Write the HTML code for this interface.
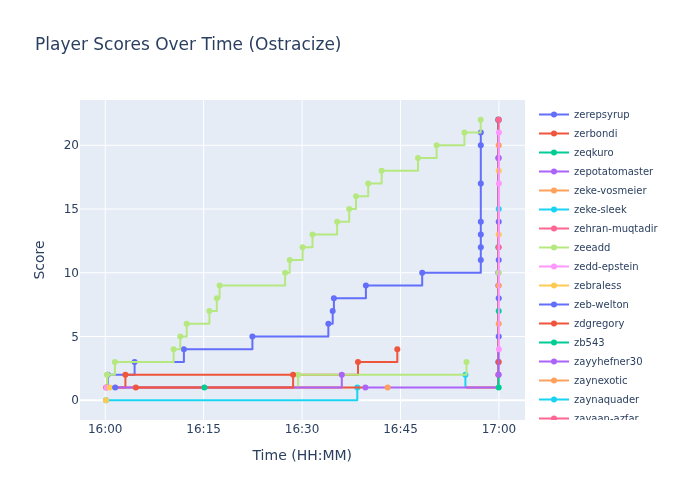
<!DOCTYPE html>
<html lang="en"><head><meta charset="utf-8"><title>Player Scores Over Time (Ostracize)</title>
<style>
html,body{margin:0;padding:0;background:#fff;}
body{width:700px;height:500px;overflow:hidden;}
svg{display:block;will-change:transform;font-family:"DejaVu Sans","Liberation Sans",sans-serif;}
svg text{white-space:pre;}
</style></head><body>
<svg width="700" height="500" viewBox="0 0 700 500">
<defs>
<clipPath id="plotclip"><rect x="80" y="100" width="445" height="320"/></clipPath>
<clipPath id="legclip"><rect x="534" y="100" width="166" height="320"/></clipPath>
</defs>
<rect x="0" y="0" width="700" height="500" fill="#fff"/>
<rect x="80" y="100" width="445" height="320" fill="#E5ECF6"/>
<g clip-path="url(#plotclip)">
<path d="M105.22,100V420" stroke="#fff" stroke-width="1" fill="none"/>
<path d="M203.65,100V420" stroke="#fff" stroke-width="1" fill="none"/>
<path d="M302.07,100V420" stroke="#fff" stroke-width="1" fill="none"/>
<path d="M400.5,100V420" stroke="#fff" stroke-width="1" fill="none"/>
<path d="M498.93,100V420" stroke="#fff" stroke-width="1" fill="none"/>
<path d="M80,336.5H525" stroke="#fff" stroke-width="1" fill="none"/>
<path d="M80,272.75H525" stroke="#fff" stroke-width="1" fill="none"/>
<path d="M80,209.0H525" stroke="#fff" stroke-width="1" fill="none"/>
<path d="M80,145.25H525" stroke="#fff" stroke-width="1" fill="none"/>
<path d="M80,400.25H525" stroke="#fff" stroke-width="2" fill="none"/>
<path d="M106,400.25H357.3V387.5" fill="none" stroke="#19d3f3" stroke-width="2" stroke-linejoin="round" stroke-linecap="butt"/>
<circle cx="106" cy="400.25" r="3" fill="#19d3f3"/>
<circle cx="357.3" cy="387.5" r="3" fill="#19d3f3"/>
<path d="M465.4,387.5H465.4V374.75" fill="none" stroke="#19d3f3" stroke-width="2" stroke-linejoin="round" stroke-linecap="butt"/>
<circle cx="465.4" cy="374.75" r="3" fill="#19d3f3"/>
<path d="M105.6,387.5H107.65V374.75H134.6V362.0H183.9V349.25H252.4V336.5H328.35V323.75H332.7V311.0H333.9V298.25H365.9V285.5H422.2V272.75H480.8V260.0H480.8V247.25H480.8V234.5H480.8V221.75H480.8V183.5H480.8V145.25H480.8V132.5" fill="none" stroke="#636efa" stroke-width="2" stroke-linejoin="round" stroke-linecap="butt"/>
<circle cx="107.65" cy="374.75" r="3" fill="#636efa"/>
<circle cx="134.6" cy="362.0" r="3" fill="#636efa"/>
<circle cx="183.9" cy="349.25" r="3" fill="#636efa"/>
<circle cx="252.4" cy="336.5" r="3" fill="#636efa"/>
<circle cx="328.35" cy="323.75" r="3" fill="#636efa"/>
<circle cx="332.7" cy="311.0" r="3" fill="#636efa"/>
<circle cx="333.9" cy="298.25" r="3" fill="#636efa"/>
<circle cx="365.9" cy="285.5" r="3" fill="#636efa"/>
<circle cx="422.2" cy="272.75" r="3" fill="#636efa"/>
<circle cx="480.8" cy="260.0" r="3" fill="#636efa"/>
<circle cx="480.8" cy="247.25" r="3" fill="#636efa"/>
<circle cx="480.8" cy="234.5" r="3" fill="#636efa"/>
<circle cx="480.8" cy="221.75" r="3" fill="#636efa"/>
<circle cx="480.8" cy="183.5" r="3" fill="#636efa"/>
<circle cx="480.8" cy="145.25" r="3" fill="#636efa"/>
<circle cx="480.8" cy="132.5" r="3" fill="#636efa"/>
<path d="M105.6,387.5H125.4V374.75H358.0V362.0H397.3V349.25" fill="none" stroke="#EF553B" stroke-width="2" stroke-linejoin="round" stroke-linecap="butt"/>
<circle cx="125.4" cy="374.75" r="3" fill="#EF553B"/>
<circle cx="358.0" cy="362.0" r="3" fill="#EF553B"/>
<circle cx="397.3" cy="349.25" r="3" fill="#EF553B"/>
<path d="M106.2,387.5H365.4" fill="none" stroke="#EF553B" stroke-width="2" stroke-linejoin="round" stroke-linecap="butt"/>
<path d="M466.0,387.5H498.1" fill="none" stroke="#EF553B" stroke-width="2" stroke-linejoin="round" stroke-linecap="butt"/>
<path d="M105.6,387.5H107.0V374.75H114.9V362.0H173.6V349.25H180.3V336.5H186.7V323.75H209.4V311.0H216.8V298.25H219.6V285.5H285.1V272.75H289.7V260.0H302.6V247.25H312.5V234.5H337.1V221.75H349.2V209.0H356.0V196.25H368.2V183.5H381.65V170.75H418.0V158.0H436.6V145.25H464.4V132.5H480.7V119.75" fill="none" stroke="#B6E880" stroke-width="2" stroke-linejoin="round" stroke-linecap="butt"/>
<circle cx="107.0" cy="374.75" r="3" fill="#B6E880"/>
<circle cx="114.9" cy="362.0" r="3" fill="#B6E880"/>
<circle cx="173.6" cy="349.25" r="3" fill="#B6E880"/>
<circle cx="180.3" cy="336.5" r="3" fill="#B6E880"/>
<circle cx="186.7" cy="323.75" r="3" fill="#B6E880"/>
<circle cx="209.4" cy="311.0" r="3" fill="#B6E880"/>
<circle cx="216.8" cy="298.25" r="3" fill="#B6E880"/>
<circle cx="219.6" cy="285.5" r="3" fill="#B6E880"/>
<circle cx="285.1" cy="272.75" r="3" fill="#B6E880"/>
<circle cx="289.7" cy="260.0" r="3" fill="#B6E880"/>
<circle cx="302.6" cy="247.25" r="3" fill="#B6E880"/>
<circle cx="312.5" cy="234.5" r="3" fill="#B6E880"/>
<circle cx="337.1" cy="221.75" r="3" fill="#B6E880"/>
<circle cx="349.2" cy="209.0" r="3" fill="#B6E880"/>
<circle cx="356.0" cy="196.25" r="3" fill="#B6E880"/>
<circle cx="368.2" cy="183.5" r="3" fill="#B6E880"/>
<circle cx="381.65" cy="170.75" r="3" fill="#B6E880"/>
<circle cx="418.0" cy="158.0" r="3" fill="#B6E880"/>
<circle cx="436.6" cy="145.25" r="3" fill="#B6E880"/>
<circle cx="464.4" cy="132.5" r="3" fill="#B6E880"/>
<circle cx="480.7" cy="119.75" r="3" fill="#B6E880"/>
<path d="M298.1,387.5H298.1V374.75H466.5V362.0" fill="none" stroke="#B6E880" stroke-width="2" stroke-linejoin="round" stroke-linecap="butt"/>
<circle cx="298.1" cy="374.75" r="3" fill="#B6E880"/>
<circle cx="466.5" cy="362.0" r="3" fill="#B6E880"/>
<path d="M105.6,387.5H341.8V374.75" fill="none" stroke="#ab63fa" stroke-width="2" stroke-linejoin="round" stroke-linecap="butt"/>
<circle cx="341.8" cy="374.75" r="3" fill="#ab63fa"/>
<path d="M135.8,387.5H293.1V374.75" fill="none" stroke="#EF553B" stroke-width="2" stroke-linejoin="round" stroke-linecap="butt"/>
<circle cx="135.8" cy="387.5" r="3" fill="#EF553B"/>
<circle cx="293.1" cy="374.75" r="3" fill="#EF553B"/>
<path d="M498.1,387.5V209.0" fill="none" stroke="#b3737b" stroke-width="2" stroke-linejoin="round" stroke-linecap="butt"/>
<path d="M498.1,209.0V132.5" fill="none" stroke="#877b9a" stroke-width="2" stroke-linejoin="round" stroke-linecap="butt"/>
<path d="M498.1,132.5V119.75" fill="none" stroke="#6f6a94" stroke-width="2" stroke-linejoin="round" stroke-linecap="butt"/>
<circle cx="498.3" cy="158.0" r="3" fill="#636efa"/>
<circle cx="498.3" cy="247.25" r="3" fill="#00cc96"/>
<circle cx="498.3" cy="272.75" r="3" fill="#ab63fa"/>
<circle cx="498.3" cy="285.5" r="3" fill="#ab63fa"/>
<circle cx="498.3" cy="362.0" r="3" fill="#636efa"/>
<circle cx="498.3" cy="374.75" r="3" fill="#EF553B"/>
<circle cx="498.45" cy="119.65" r="3.25" fill="#6f6a94"/>
<circle cx="498.7" cy="362.0" r="3" fill="#EF553B"/>
<circle cx="498.7" cy="336.5" r="3" fill="#636efa"/>
<circle cx="498.7" cy="323.75" r="3" fill="#FFA15A"/>
<circle cx="498.7" cy="311.0" r="3" fill="#00cc96"/>
<circle cx="498.7" cy="298.25" r="3" fill="#636efa"/>
<circle cx="498.7" cy="285.5" r="3" fill="#FFA15A"/>
<circle cx="498.7" cy="272.75" r="3" fill="#B6E880"/>
<circle cx="498.7" cy="260.0" r="3" fill="#636efa"/>
<circle cx="498.7" cy="234.5" r="3" fill="#FECB52"/>
<circle cx="498.7" cy="221.75" r="3" fill="#636efa"/>
<circle cx="498.7" cy="209.0" r="3" fill="#19d3f3"/>
<circle cx="498.7" cy="170.75" r="3" fill="#FECB52"/>
<circle cx="498.7" cy="158.0" r="3" fill="#ab63fa"/>
<circle cx="498.7" cy="145.25" r="3" fill="#FFA15A"/>
<path d="M365.4,387.5" fill="none" stroke="#ab63fa" stroke-width="2" stroke-linejoin="round" stroke-linecap="butt"/>
<circle cx="365.4" cy="387.5" r="3" fill="#ab63fa"/>
<path d="M365.4,387.5H498.7" fill="none" stroke="#ab63fa" stroke-width="2" stroke-linejoin="round" stroke-linecap="butt"/>
<circle cx="387.7" cy="387.5" r="3" fill="#FFA15A"/>
<path d="M498.7,387.5V374.75" fill="none" stroke="#00cc96" stroke-width="2" stroke-linejoin="round" stroke-linecap="butt"/>
<circle cx="498.7" cy="387.5" r="3" fill="#00cc96"/>
<path d="M498.7,374.75V349.25" fill="none" stroke="#ab63fa" stroke-width="2" stroke-linejoin="round" stroke-linecap="butt"/>
<circle cx="498.7" cy="374.75" r="3" fill="#ab63fa"/>
<path d="M498.7,247.25V119.75" fill="none" stroke="#FF6692" stroke-width="2" stroke-linejoin="round" stroke-linecap="butt"/>
<circle cx="498.7" cy="247.25" r="3" fill="#FF6692"/>
<circle cx="498.7" cy="119.75" r="3" fill="#FF6692"/>
<path d="M498.9,349.25V132.5" fill="none" stroke="#FF97FF" stroke-width="2" stroke-linejoin="round" stroke-linecap="butt"/>
<circle cx="498.9" cy="349.25" r="3" fill="#FF97FF"/>
<circle cx="498.9" cy="183.5" r="3" fill="#FF97FF"/>
<circle cx="498.9" cy="132.5" r="3" fill="#FF97FF"/>
<circle cx="106.2" cy="387.5" r="3" fill="#EF553B"/>
<circle cx="106.6" cy="387.5" r="3" fill="#FF97FF"/>
<circle cx="109.7" cy="387.5" r="3" fill="#FECB52"/>
<circle cx="115.2" cy="387.5" r="3" fill="#636efa"/>
<circle cx="204.4" cy="387.5" r="3" fill="#00cc96"/>
<circle cx="106.0" cy="400.25" r="3" fill="#FECB52"/>
</g>
<text x="105.22" y="433" text-anchor="middle" font-size="12" fill="#2a3f5f">16:00</text>
<text x="203.65" y="433" text-anchor="middle" font-size="12" fill="#2a3f5f">16:15</text>
<text x="302.07" y="433" text-anchor="middle" font-size="12" fill="#2a3f5f">16:30</text>
<text x="400.5" y="433" text-anchor="middle" font-size="12" fill="#2a3f5f">16:45</text>
<text x="498.93" y="433" text-anchor="middle" font-size="12" fill="#2a3f5f">17:00</text>
<text x="79" y="404.45" text-anchor="end" font-size="12" fill="#2a3f5f">0</text>
<text x="79" y="340.70" text-anchor="end" font-size="12" fill="#2a3f5f">5</text>
<text x="79" y="276.95" text-anchor="end" font-size="12" fill="#2a3f5f">10</text>
<text x="79" y="213.20" text-anchor="end" font-size="12" fill="#2a3f5f">15</text>
<text x="79" y="149.45" text-anchor="end" font-size="12" fill="#2a3f5f">20</text>
<text x="35" y="50" font-size="17" fill="#2a3f5f">Player Scores Over Time (Ostracize)</text>
<text x="302.3" y="459.8" text-anchor="middle" font-size="14" fill="#2a3f5f">Time (HH:MM)</text>
<text transform="rotate(-90,44.2,260)" x="44.2" y="260" text-anchor="middle" font-size="14" fill="#2a3f5f">Score</text>
<g clip-path="url(#legclip)">
<path d="M539,114.5H569" stroke="#636efa" stroke-width="2" fill="none"/>
<circle cx="554" cy="114.5" r="3" fill="#636efa"/>
<text x="574" y="118.0" font-size="10" fill="#2a3f5f">zerepsyrup</text>
<path d="M539,133.5H569" stroke="#EF553B" stroke-width="2" fill="none"/>
<circle cx="554" cy="133.5" r="3" fill="#EF553B"/>
<text x="574" y="137.0" font-size="10" fill="#2a3f5f">zerbondi</text>
<path d="M539,152.5H569" stroke="#00cc96" stroke-width="2" fill="none"/>
<circle cx="554" cy="152.5" r="3" fill="#00cc96"/>
<text x="574" y="156.0" font-size="10" fill="#2a3f5f">zeqkuro</text>
<path d="M539,171.5H569" stroke="#ab63fa" stroke-width="2" fill="none"/>
<circle cx="554" cy="171.5" r="3" fill="#ab63fa"/>
<text x="574" y="175.0" font-size="10" fill="#2a3f5f">zepotatomaster</text>
<path d="M539,190.5H569" stroke="#FFA15A" stroke-width="2" fill="none"/>
<circle cx="554" cy="190.5" r="3" fill="#FFA15A"/>
<text x="574" y="194.0" font-size="10" fill="#2a3f5f">zeke-vosmeier</text>
<path d="M539,209.5H569" stroke="#19d3f3" stroke-width="2" fill="none"/>
<circle cx="554" cy="209.5" r="3" fill="#19d3f3"/>
<text x="574" y="213.0" font-size="10" fill="#2a3f5f">zeke-sleek</text>
<path d="M539,228.5H569" stroke="#FF6692" stroke-width="2" fill="none"/>
<circle cx="554" cy="228.5" r="3" fill="#FF6692"/>
<text x="574" y="232.0" font-size="10" fill="#2a3f5f">zehran-muqtadir</text>
<path d="M539,247.5H569" stroke="#B6E880" stroke-width="2" fill="none"/>
<circle cx="554" cy="247.5" r="3" fill="#B6E880"/>
<text x="574" y="251.0" font-size="10" fill="#2a3f5f">zeeadd</text>
<path d="M539,266.5H569" stroke="#FF97FF" stroke-width="2" fill="none"/>
<circle cx="554" cy="266.5" r="3" fill="#FF97FF"/>
<text x="574" y="270.0" font-size="10" fill="#2a3f5f">zedd-epstein</text>
<path d="M539,285.5H569" stroke="#FECB52" stroke-width="2" fill="none"/>
<circle cx="554" cy="285.5" r="3" fill="#FECB52"/>
<text x="574" y="289.0" font-size="10" fill="#2a3f5f">zebraless</text>
<path d="M539,304.5H569" stroke="#636efa" stroke-width="2" fill="none"/>
<circle cx="554" cy="304.5" r="3" fill="#636efa"/>
<text x="574" y="308.0" font-size="10" fill="#2a3f5f">zeb-welton</text>
<path d="M539,323.5H569" stroke="#EF553B" stroke-width="2" fill="none"/>
<circle cx="554" cy="323.5" r="3" fill="#EF553B"/>
<text x="574" y="327.0" font-size="10" fill="#2a3f5f">zdgregory</text>
<path d="M539,342.5H569" stroke="#00cc96" stroke-width="2" fill="none"/>
<circle cx="554" cy="342.5" r="3" fill="#00cc96"/>
<text x="574" y="346.0" font-size="10" fill="#2a3f5f">zb543</text>
<path d="M539,361.5H569" stroke="#ab63fa" stroke-width="2" fill="none"/>
<circle cx="554" cy="361.5" r="3" fill="#ab63fa"/>
<text x="574" y="365.0" font-size="10" fill="#2a3f5f">zayyhefner30</text>
<path d="M539,380.5H569" stroke="#FFA15A" stroke-width="2" fill="none"/>
<circle cx="554" cy="380.5" r="3" fill="#FFA15A"/>
<text x="574" y="384.0" font-size="10" fill="#2a3f5f">zaynexotic</text>
<path d="M539,399.5H569" stroke="#19d3f3" stroke-width="2" fill="none"/>
<circle cx="554" cy="399.5" r="3" fill="#19d3f3"/>
<text x="574" y="403.0" font-size="10" fill="#2a3f5f">zaynaquader</text>
<path d="M539,418.5H569" stroke="#FF6692" stroke-width="2" fill="none"/>
<circle cx="554" cy="418.5" r="3" fill="#FF6692"/>
<text x="574" y="422.0" font-size="10" fill="#2a3f5f">zayaan-azfar</text>
<path d="M539,437.5H569" stroke="#B6E880" stroke-width="2" fill="none"/>
<circle cx="554" cy="437.5" r="3" fill="#B6E880"/>
<text x="574" y="441.0" font-size="10" fill="#2a3f5f">zay-lo</text>
</g>
</svg>
</body></html>
